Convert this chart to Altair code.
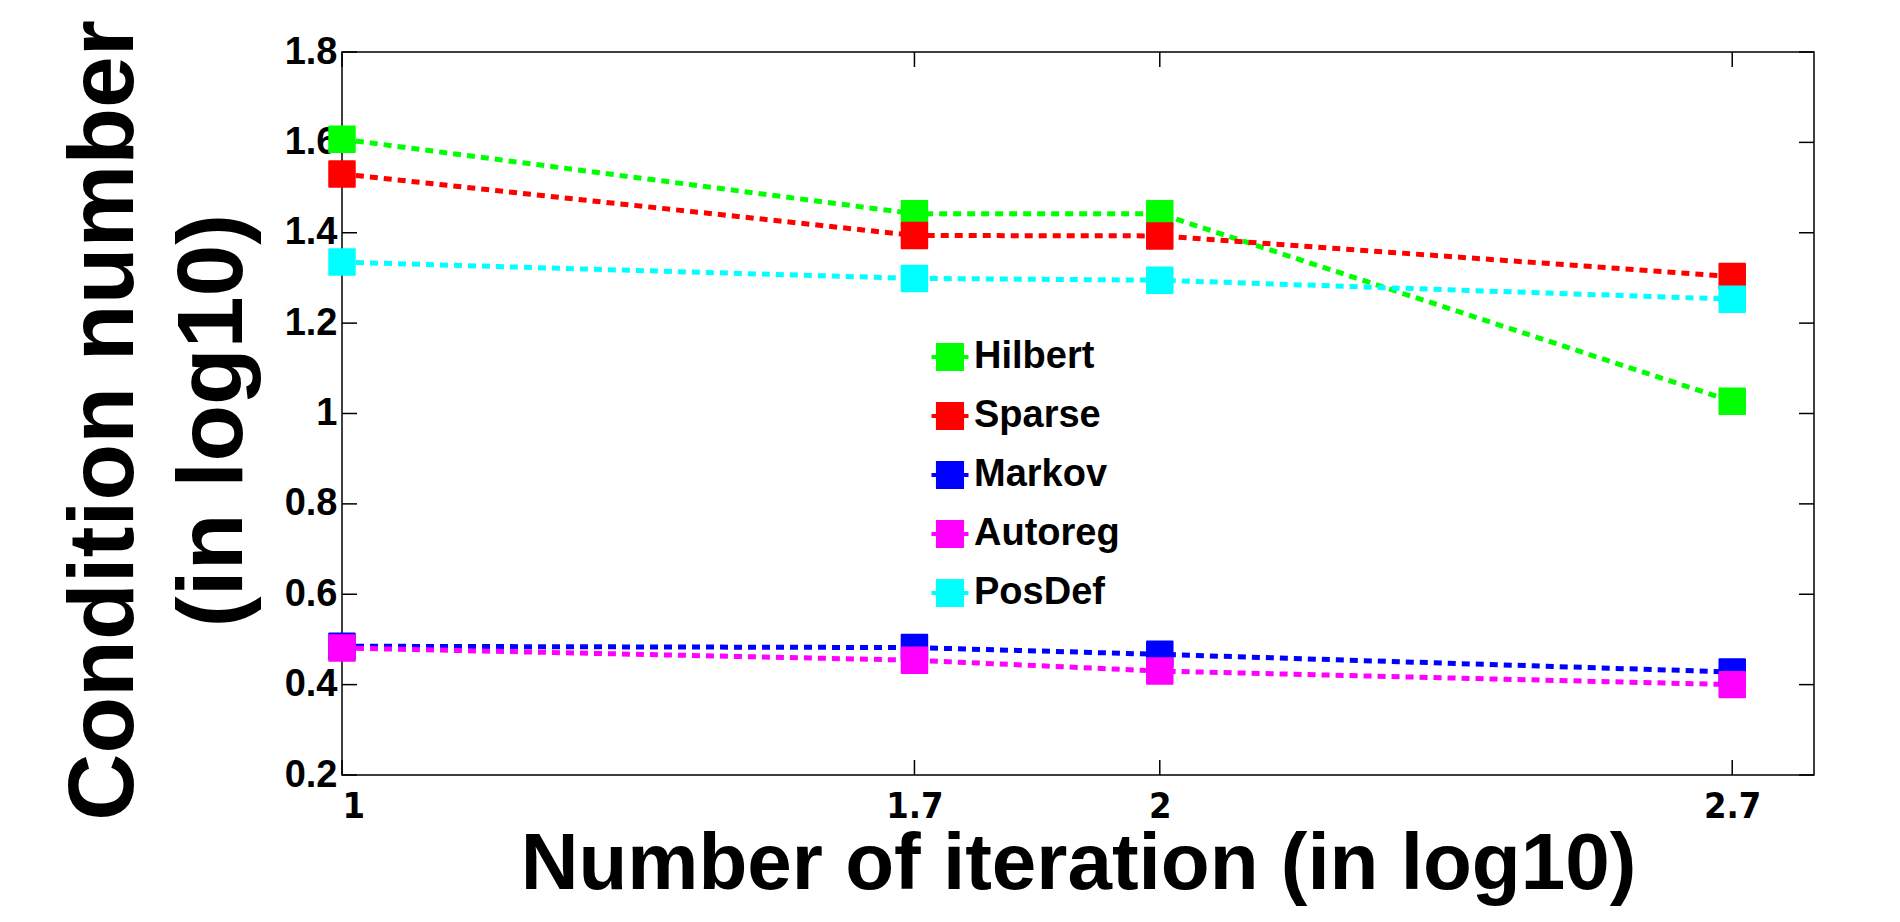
import altair as alt
import pandas as pd

# Iteration counts (log10) and condition numbers (log10) per matrix family
iterations = [1, 1.7, 2, 2.7]
series_names = ["Hilbert", "Sparse", "Markov", "Autoreg", "PosDef"]
hilbert = [1.607, 1.442, 1.442, 1.027]
sparse = [1.530, 1.394, 1.393, 1.303]
markov = [0.485, 0.482, 0.467, 0.428]
autoreg = [0.481, 0.454, 0.430, 0.400]
posdef = [1.335, 1.299, 1.295, 1.253]
series_colors = ["#00ff00", "#ff0000", "#0000ff", "#ff00ff", "#00ffff"]

y_ticks = [0.2, 0.4, 0.6, 0.8, 1.0, 1.2, 1.4, 1.6, 1.8]
x_ticks = [1, 1.7, 2, 2.7]

W, H = 1472, 723
TICK = 15

rows = []
for name, vals in zip(series_names, [hilbert, sparse, markov, autoreg, posdef]):
    for xv, yv in zip(iterations, vals):
        rows.append({"x": xv, "y": yv, "series": name})
df = pd.DataFrame(rows)

font = "Liberation Sans"
narrow = "Liberation Sans Narrow, DejaVu Sans Condensed, Roboto Condensed, Roboto"

x_scale = alt.Scale(domain=[1, 2.8], nice=False, zero=False)
y_scale = alt.Scale(domain=[0.2, 1.8], nice=False, zero=False)

x_axis = alt.Axis(
    values=x_ticks, format=".1~f", grid=False, domain=False, ticks=False, tickSize=0,
    labelFont=narrow, labelFontSize=36, labelFontWeight="bold", labelColor="black",
    labelBaseline="alphabetic", labelPadding=42,
    title="Number of iteration (in log10)", titleFont=font, titleFontSize=80,
    titleFontWeight="bold", titleColor="black", titleBaseline="alphabetic",
    titleX=W / 2, titleY=113, titleAlign="center",
)
y_axis = alt.Axis(
    values=y_ticks, format=".1~f", grid=False, domain=False, ticks=False, tickSize=0,
    labelFont=font, labelFontSize=38, labelFontWeight="bold", labelColor="black",
    labelPadding=5,
    title=["Condition number", "(in log10)"], titleFont=font, titleFontSize=93,
    titleFontWeight="bold", titleColor="black", titleBaseline="alphabetic",
    titleAngle=270, titleLineHeight=109, titleX=-210, titleY=368, titleAlign="center",
)

legend_symbol = "M-1,-0.11H1V0.11H-1Z M-0.76,-0.76H0.76V0.76H-0.76Z"
color = alt.Color(
    "series:N",
    scale=alt.Scale(domain=series_names, range=series_colors),
    legend=alt.Legend(
        orient="none", legendX=589, legendY=286, title=None, padding=0,
        symbolType=legend_symbol, symbolSize=1369, symbolStrokeWidth=0,
        symbolOpacity=1, labelFont=font, labelFontSize=38, labelFontWeight="bold",
        labelColor="black", labelOffset=5, rowPadding=21,
    ),
)

lines = alt.Chart(df).mark_line(strokeWidth=5, strokeDash=[8, 6], strokeCap="butt").encode(
    x=alt.X("x:Q", scale=x_scale, axis=x_axis),
    y=alt.Y("y:Q", scale=y_scale, axis=y_axis),
    color=color,
    detail="series:N",
)

points = alt.Chart(df).mark_point(
    shape="square", filled=True, size=650, opacity=1, strokeWidth=2, strokeJoin="round"
).encode(
    x="x:Q",
    y="y:Q",
    color=color,
    stroke=alt.Stroke("series:N", scale=alt.Scale(domain=series_names, range=series_colors), legend=None),
)

ydf = pd.DataFrame({"y": y_ticks})
xdf = pd.DataFrame({"x": x_ticks})
tick_style = dict(color="black", strokeWidth=1.5)
left_ticks = alt.Chart(ydf).mark_rule(**tick_style).encode(
    y="y:Q", x=alt.value(0), x2=alt.value(TICK))
right_ticks = alt.Chart(ydf).mark_rule(**tick_style).encode(
    y="y:Q", x=alt.value(W - TICK), x2=alt.value(W))
bottom_ticks = alt.Chart(xdf).mark_rule(**tick_style).encode(
    x="x:Q", y=alt.value(H - TICK), y2=alt.value(H))
top_ticks = alt.Chart(xdf).mark_rule(**tick_style).encode(
    x="x:Q", y=alt.value(0), y2=alt.value(TICK))

chart = alt.layer(
    left_ticks, right_ticks, bottom_ticks, top_ticks, lines, points
).properties(
    width=W, height=H,
    background="white",
    autosize=alt.AutoSizeParams(type="none"),
    padding={"left": 342, "top": 52, "right": 86, "bottom": 147},
).configure_view(
    stroke="black", strokeWidth=1.5
)

chart.save("out.html", embed_options={"renderer": "svg", "actions": False})
